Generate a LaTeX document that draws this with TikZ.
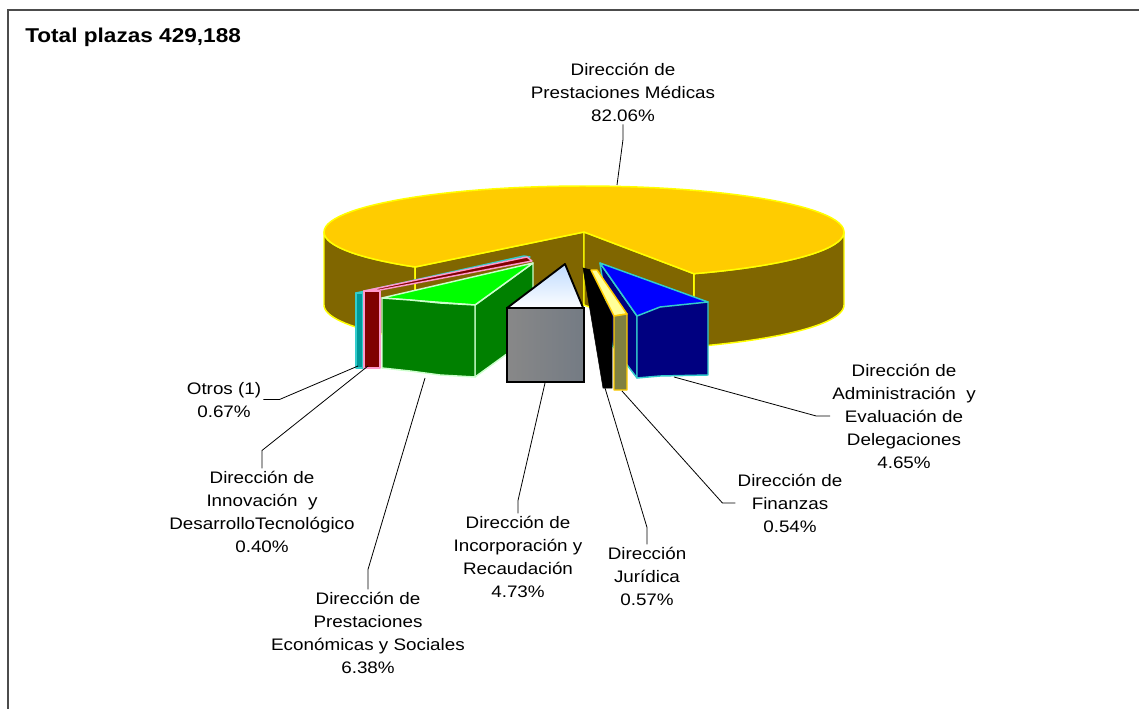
\documentclass[tikz,border=0pt]{standalone}
\usepackage{fontspec}
\setmainfont[FakeStretch=1.13]{Liberation Sans}

\definecolor{pieGold}{HTML}{FFCC00}
\definecolor{pieWall}{HTML}{806600}
\definecolor{pieLine}{HTML}{FFFF00}
\definecolor{otrosFill}{HTML}{009999}
\definecolor{otrosLine}{HTML}{33CCCC}
\definecolor{innoFill}{HTML}{800000}
\definecolor{innoLine}{HTML}{FF99CC}
\definecolor{econDark}{HTML}{008000}
\definecolor{econTop}{HTML}{00FF00}
\definecolor{econLine}{HTML}{CCFFCC}
\definecolor{incoTop}{HTML}{BFDBFF}
\definecolor{incoLeft}{HTML}{888888}
\definecolor{incoMid}{HTML}{58708A}
\definecolor{incoRight}{HTML}{747B84}
\definecolor{finTop}{HTML}{FFFF99}
\definecolor{finFill}{HTML}{808040}
\definecolor{adminTop}{HTML}{0000FF}
\definecolor{adminFill}{HTML}{000080}

\tikzset{
	face/.style={line width=1.1pt, line join=round},
	leader/.style={draw=black, line width=0.6pt},
	lbl/.style={align=center, inner sep=1.5pt, font=\fontsize{12.5}{17.25}\selectfont},
}

\begin{document}
\begin{tikzpicture}[x=0.75pt, y=-0.75pt]
	\useasboundingbox (0,0) rectangle (1139,709);
	\draw[line width=1.2pt, draw=black!70] (8,709) -- (8,10) -- (1139,10);
	\node[anchor=base west, inner sep=0pt, font=\fontsize{15}{18}\selectfont\bfseries] (title) at (25,43) {Total plazas 429,188};

	% main slice
	\filldraw[face, fill=pieWall, draw=pieLine] plot[domain=130.5:180, samples=20] ({584+260*cos(\x)},{232+46*sin(\x)})
		-- plot[domain=180:130.5, samples=20] ({584+260*cos(\x)},{305+46*sin(\x)}) -- cycle;
	\filldraw[face, fill=pieWall, draw=pieLine] plot[domain=0:65, samples=25] ({584+260*cos(\x)},{232+46*sin(\x)})
		-- plot[domain=65:0, samples=25] ({584+260*cos(\x)},{305+46*sin(\x)}) -- cycle;
	\filldraw[face, fill=pieWall, draw=pieLine] (584,232) -- (415.2,267) -- (415.2,340) -- (584,305) -- cycle;
	\filldraw[face, fill=pieWall, draw=pieLine] (584,232) -- (693.9,273.7) -- (693.9,346.7) -- (584,305) -- cycle;
	\filldraw[face, fill=pieGold, draw=pieLine] (584,232)
		-- plot[domain=65:-229.5, samples=90] ({584+260*cos(\x)},{232+46*sin(\x)}) -- cycle;

	% exploded slices
	\filldraw[face, fill=otrosFill, draw=otrosLine] (356,293) -- (524,256) -- (530,257) -- (363,292) -- cycle;
	\filldraw[face, fill=otrosFill, draw=otrosLine] (356,293) rectangle (363,368);
	\filldraw[face, fill=innoFill, draw=innoLine] (364,291) -- (527,257) -- (532,261) -- (380,290) -- cycle;
	\filldraw[face, fill=innoFill, draw=innoLine] (364,291) rectangle (380,368);

	\filldraw[face, fill=econDark, draw=econLine] (475,305) -- (533,263) -- (533,335) -- (475,377) -- cycle;
	\filldraw[face, fill=econTop, draw=econLine] (382,298) -- (533,263) -- (475,305) -- cycle;
	\filldraw[face, fill=econDark, draw=econLine] (382,298) -- (410,300) -- (440,303) -- (475,305)
		-- (475,377) -- (440,375) -- (410,371) -- (382,368) -- cycle;

	\shade[top color=incoTop, bottom color=white] (507,308) -- (565,264) -- (584,310) -- cycle;
	\draw[line width=1.4pt, line join=round] (507,308) -- (565,264) -- (584,310);
	\shade[left color=incoLeft, middle color=incoMid, right color=incoRight] (507,308) rectangle (584,382);
	\draw[line width=1.4pt] (507,308) rectangle (584,382);

	\filldraw[face, fill=adminFill, draw=otrosLine] (600,263) -- (637,316) -- (637,378) -- (612,345) -- cycle;
	\filldraw[face, fill=adminTop, draw=otrosLine] (600,263) -- (708,302) -- (637,316) -- cycle;
	\filldraw[face, fill=adminFill, draw=otrosLine] (637,316) -- (660,307) -- (708,302) -- (708,375) -- (660,376) -- (637,378) -- cycle;

	\filldraw[fill=black, draw=black] (583,268) -- (591,270) -- (612,316) -- (612,388) -- (603,388) -- cycle;
	\filldraw[face, fill=finTop, draw=pieGold] (591,270) -- (597,270) -- (627,314) -- (614,316) -- cycle;
	\filldraw[face, fill=finFill, draw=pieGold] (614,316) -- (627,314) -- (627,390) -- (614,390) -- cycle;

	% labels
	\node[lbl, anchor=base] (lblMedicas) at (623,122) {Dirección de\\Prestaciones Médicas\\82.06\%};
	\node[lbl, anchor=base] (lblOtros) at (224,417) {Otros (1)\\0.67\%};
	\node[lbl, anchor=base] (lblInnovacion) at (262,552) {Dirección de\\Innovación\ \ y\\DesarrolloTecnológico\\0.40\%};
	\node[lbl, anchor=base] (lblEconomicas) at (368,673) {Dirección de\\Prestaciones\\Económicas y\ Sociales\\6.38\%};
	\node[lbl, anchor=base] (lblIncorporacion) at (518,597) {Dirección de\\Incorporación y\\Recaudación\\4.73\%};
	\node[lbl, anchor=base] (lblJuridica) at (647,605) {Dirección\\Jurídica\\0.57\%};
	\node[lbl, anchor=base] (lblFinanzas) at (790,532) {Dirección de\\Finanzas\\0.54\%};
	\node[lbl, anchor=base] (lblAdmin) at (904,468) {Dirección de\\Administración\ \ y\\Evaluación de\\Delegaciones\\4.65\%};

	\coordinate (tipMedicas) at (617,185);
	\coordinate (tipOtros) at (358,366);
	\coordinate (tipInnovacion) at (368,366);
	\coordinate (tipEconomicas) at (425,378);
	\coordinate (tipIncorporacion) at (545,383);
	\coordinate (tipJuridica) at (605,388);
	\coordinate (tipFinanzas) at (622,391);
	\coordinate (tipAdmin) at (674,377);

	\draw[leader] (lblMedicas.south) -- ++(0,15) -- (tipMedicas);
	\draw[leader] (lblOtros.east) -- ++(16,0) -- (tipOtros);
	\draw[leader] (lblInnovacion.north) -- ++(0,-18) -- (tipInnovacion);
	\draw[leader] (lblEconomicas.north) -- ++(0,-20) -- (tipEconomicas);
	\draw[leader] (lblIncorporacion.north) -- ++(0,-13) -- (tipIncorporacion);
	\draw[leader] (lblJuridica.north) -- ++(0,-17) -- (tipJuridica);
	\draw[leader] (lblFinanzas.west) -- ++(-13,0) -- (tipFinanzas);
	\draw[leader] (lblAdmin.west) -- ++(-14,0) -- (tipAdmin);
\end{tikzpicture}
\end{document}
